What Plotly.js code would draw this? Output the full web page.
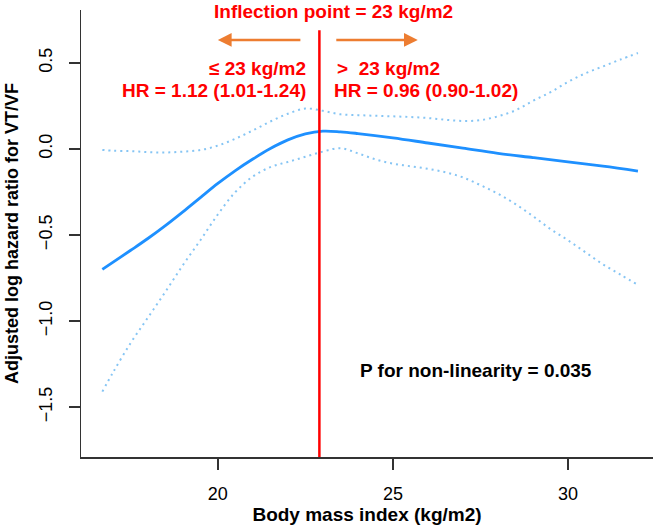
<!DOCTYPE html>
<html>
<head>
<meta charset="utf-8">
<script src="https://cdn.plot.ly/plotly-3.0.1.min.js"></script>
<style>
  html, body { margin: 0; padding: 0; background: #fff; }
  #chart { width: 656px; height: 527px; }
</style>
</head>
<body>
<div id="chart"></div>
<script>
// ---- data ----
const bmiFit = [16.7, 17.5, 18.0, 18.5, 19.0, 19.5, 20.0, 20.5, 21.0, 21.5, 22.0, 22.5, 23.0, 23.5, 24.0, 25.0, 26.0, 27.0, 28.0, 29.0, 30.0, 31.0, 32.0];
const logHR  = [-0.70, -0.59, -0.52, -0.445, -0.365, -0.282, -0.2, -0.125, -0.058, 0.003, 0.053, 0.088, 0.104, 0.10, 0.09, 0.065, 0.035, 0.005, -0.025, -0.05, -0.075, -0.10, -0.128];

const bmiCI = [16.7, 17.0, 17.5, 18.0, 18.5, 19.0, 19.5, 20.0, 20.5, 21.0, 21.5, 22.0, 22.5, 23.0, 23.5, 24.0, 24.5, 25.0, 25.5, 26.0, 26.5, 27.0, 27.5, 28.0, 28.5, 29.0, 29.5, 30.0, 30.5, 31.0, 31.5, 32.0];
const upperCI = [-0.005, -0.01, -0.012, -0.018, -0.02, -0.015, -0.006, 0.02, 0.06, 0.108, 0.16, 0.205, 0.235, 0.222, 0.202, 0.197, 0.193, 0.19, 0.186, 0.18, 0.17, 0.163, 0.168, 0.19, 0.225, 0.28, 0.33, 0.39, 0.44, 0.48, 0.52, 0.558];
const lowerCI = [-1.41, -1.30, -1.13, -0.98, -0.83, -0.675, -0.53, -0.38, -0.25, -0.16, -0.105, -0.075, -0.045, -0.015, 0.005, -0.025, -0.06, -0.085, -0.10, -0.115, -0.135, -0.165, -0.21, -0.26, -0.32, -0.39, -0.465, -0.53, -0.60, -0.67, -0.73, -0.79];

const inflectionX = 22.9;   // where the red line sits in the picture
const xTicks = [20, 25, 30];
const yTicks = [-1.5, -1.0, -0.5, 0.0, 0.5];

const titleText = 'Inflection point = 23 kg/m2';
const leftLabel = '\u2264 23 kg/m2';
const leftHR = 'HR = 1.12 (1.01-1.24)';
const rightLabel = '>\u00a0 23 kg/m2';
const rightHR = 'HR = 0.96 (0.90-1.02)';
const pText = 'P for non-linearity = 0.035';
const xTitle = 'Body mass index (kg/m2)';
const yTitle = 'Adjusted log hazard ratio for VT/VF';

// ---- chart ----
const FONT = 'Liberation Sans, Arial, sans-serif';
const xRange = [16.09, 32.43];
const yRange = [-1.79, 0.808];
const RED = '#FF0000';
const ORANGE = '#ED7D31';
const CI_COLOR = '#86C5F4';

const traces = [
  { x: bmiCI, y: upperCI, mode: 'lines', line: { color: CI_COLOR, width: 2, dash: '2px,4px', shape: 'spline' }, hoverinfo: 'skip' },
  { x: bmiCI, y: lowerCI, mode: 'lines', line: { color: CI_COLOR, width: 2, dash: '2px,4px', shape: 'spline' }, hoverinfo: 'skip' },
  { x: bmiFit, y: logHR, mode: 'lines', line: { color: '#1E90FF', width: 2.8, shape: 'spline' } }
];

const redText = { family: FONT, size: 19, color: RED, weight: 'bold' };

const layout = {
  width: 656, height: 527,
  margin: { l: 81, r: 3, t: 10, b: 70 },
  paper_bgcolor: '#fff', plot_bgcolor: '#fff',
  showlegend: false,
  font: { family: FONT, color: '#000' },
  xaxis: {
    range: xRange, tickvals: xTicks, showgrid: false, zeroline: false,
    showline: true, linecolor: '#333', linewidth: 1.5,
    ticks: 'outside', ticklen: 11, tickwidth: 1.5, tickcolor: '#333',
    tickfont: { family: FONT, size: 18, color: '#000' },
    ticklabelstandoff: 9,
    title: { text: xTitle, font: { family: FONT, size: 19, color: '#000', weight: 'bold' }, standoff: 3 }
  },
  yaxis: {
    range: yRange, tickvals: yTicks, tickformat: '.1f', showgrid: false, zeroline: false,
    showline: true, linecolor: '#333', linewidth: 1.5,
    ticks: 'outside', ticklen: 11, tickwidth: 1.5, tickcolor: '#333', tickangle: -90,
    tickfont: { family: FONT, size: 18, color: '#000' },
    ticklabelstandoff: 9,
    title: { text: yTitle, font: { family: FONT, size: 18, color: '#000', weight: 'bold' }, standoff: 13 }
  },
  shapes: [
    { type: 'line', xref: 'x', yref: 'y', x0: inflectionX, x1: inflectionX, y0: yRange[0], y1: 0.69,
      line: { color: RED, width: 2.5 } }
  ],
  annotations: [
    { xref: 'x', yref: 'y', x: inflectionX + 0.4, y: 0.80, text: titleText, showarrow: false,
      xanchor: 'center', yanchor: 'middle', font: redText },
    { xref: 'x', yref: 'y', x: inflectionX - 0.33, y: 0.47, text: leftLabel, showarrow: false,
      xanchor: 'right', yanchor: 'middle', font: redText },
    { xref: 'x', yref: 'y', x: inflectionX - 0.33, y: 0.343, text: leftHR, showarrow: false,
      xanchor: 'right', yanchor: 'middle', font: redText },
    { xref: 'x', yref: 'y', x: inflectionX + 0.45, y: 0.47, text: rightLabel, showarrow: false,
      xanchor: 'left', yanchor: 'middle', font: redText },
    { xref: 'x', yref: 'y', x: inflectionX + 0.36, y: 0.343, text: rightHR, showarrow: false,
      xanchor: 'left', yanchor: 'middle', font: redText },
    { xref: 'x', yref: 'y', x: 24.0, y: -1.29, text: pText, showarrow: false,
      xanchor: 'left', yanchor: 'middle', font: { family: FONT, size: 19, color: '#000', weight: 'bold' } },
    // orange arrows
    { xref: 'x', yref: 'y', axref: 'x', ayref: 'y', x: 20.0, y: 0.634, ax: 22.4, ay: 0.634,
      text: '', showarrow: true, arrowhead: 2, arrowsize: 1.1, arrowwidth: 2.5, arrowcolor: ORANGE },
    { xref: 'x', yref: 'y', axref: 'x', ayref: 'y', x: 25.71, y: 0.634, ax: 23.34, ay: 0.634,
      text: '', showarrow: true, arrowhead: 2, arrowsize: 1.1, arrowwidth: 2.5, arrowcolor: ORANGE }
  ]
};

Plotly.newPlot('chart', traces, layout, { displayModeBar: false, staticPlot: true });
</script>
</body>
</html>
